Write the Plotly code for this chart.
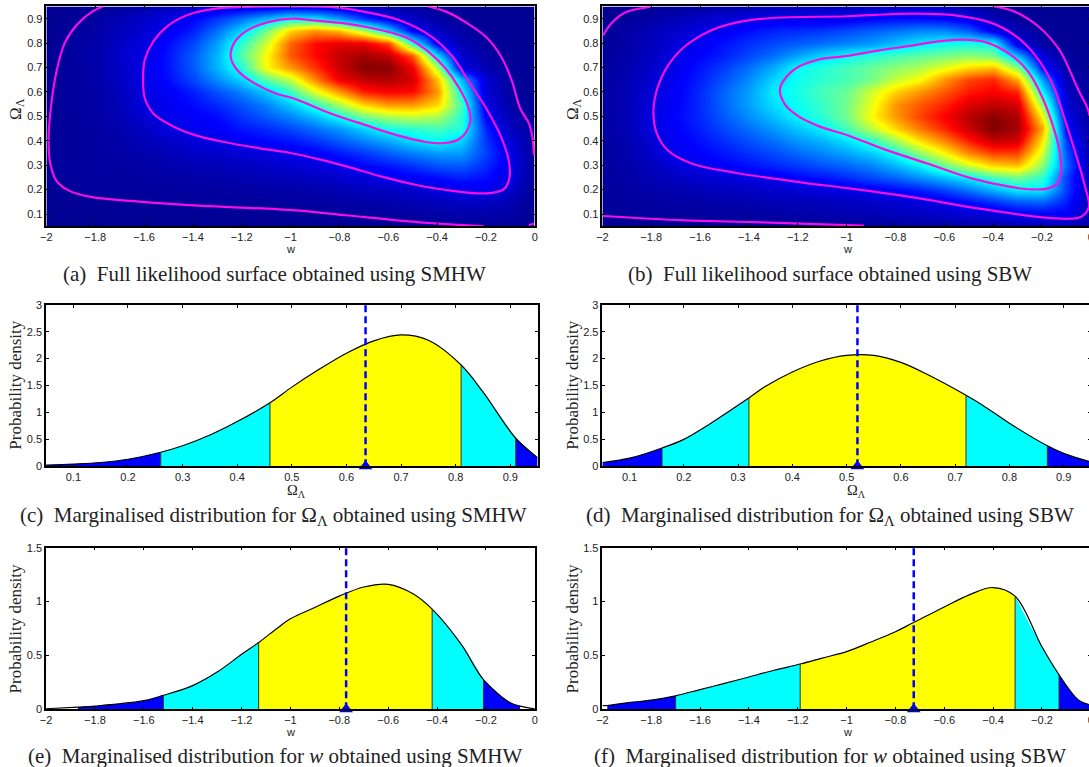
import plotly.graph_objects as go

W, H = 1100, 767

w_grid = [-2.0,-1.9,-1.8,-1.7,-1.6,-1.5,-1.4,-1.3,-1.2,-1.1,-1.0,-0.9,-0.8,-0.7,-0.6,-0.5,-0.4,-0.3,-0.2,-0.1,0.0]
om_grid = [0.05,0.10,0.15,0.20,0.25,0.30,0.35,0.40,0.45,0.50,0.55,0.60,0.65,0.70,0.75,0.80,0.85,0.90,0.95]

z_a = [
[.002,.002,.003,.003,.003,.004,.004,.004,.005,.005,.006,.006,.007,.008,.009,.011,.012,.014,.015,.012,.010],
[.003,.004,.005,.006,.007,.008,.009,.010,.011,.012,.013,.014,.015,.017,.020,.024,.030,.035,.035,.030,.005],
[.004,.007,.010,.013,.015,.016,.017,.018,.019,.020,.022,.025,.030,.035,.040,.050,.060,.070,.070,.050,.006],
[.006,.015,.018,.018,.019,.020,.022,.024,.028,.030,.035,.040,.050,.060,.070,.085,.105,.125,.130,.080,.008],
[.010,.018,.019,.020,.024,.028,.032,.038,.045,.050,.060,.070,.085,.100,.125,.140,.160,.180,.160,.115,.010],
[.012,.018,.020,.024,.030,.040,.050,.055,.065,.075,.090,.100,.120,.150,.170,.200,.230,.240,.190,.120,.012],
[.014,.017,.022,.030,.040,.055,.070,.080,.095,.105,.120,.140,.170,.200,.240,.270,.300,.300,.210,.115,.015],
[.013,.016,.025,.035,.055,.075,.100,.115,.135,.155,.170,.200,.240,.280,.320,.370,.405,.360,.200,.095,.015],
[.010,.016,.025,.040,.070,.105,.130,.140,.170,.190,.220,.260,.300,.360,.420,.440,.460,.430,.180,.060,.020],
[.009,.016,.030,.050,.090,.125,.140,.160,.200,.240,.280,.340,.410,.500,.550,.570,.550,.440,.140,.050,.012],
[.008,.017,.030,.055,.105,.130,.160,.190,.230,.280,.350,.440,.550,.660,.720,.720,.660,.460,.110,.030,.010],
[.007,.018,.030,.060,.110,.140,.180,.230,.280,.350,.450,.600,.720,.840,.870,.860,.720,.400,.090,.025,.008],
[.007,.019,.035,.070,.120,.160,.220,.290,.360,.480,.570,.740,.880,.930,.950,.910,.680,.330,.090,.020,.006],
[.008,.020,.035,.070,.115,.170,.240,.330,.430,.620,.720,.820,.920,.995,.990,.880,.550,.115,.045,.020,.005],
[.007,.020,.040,.080,.115,.170,.240,.330,.470,.620,.780,.860,.930,.960,.930,.780,.360,.080,.030,.012,.004],
[.006,.018,.035,.070,.110,.160,.220,.310,.440,.580,.770,.860,.890,.890,.800,.440,.130,.050,.018,.008,.003],
[.005,.015,.030,.060,.090,.130,.180,.260,.360,.500,.660,.720,.680,.550,.360,.140,.070,.030,.012,.006,.002],
[.004,.012,.025,.050,.080,.110,.150,.200,.260,.330,.400,.380,.300,.200,.120,.070,.030,.015,.008,.004,.002],
[.003,.006,.012,.022,.040,.060,.080,.100,.115,.120,.125,.120,.100,.070,.045,.022,.012,.006,.004,.002,.001],
]

z_b = [
[.005,.005,.006,.006,.007,.007,.008,.009,.010,.011,.012,.015,.018,.020,.025,.030,.035,.040,.045,.050,.020],
[.017,.017,.018,.019,.021,.024,.026,.030,.034,.038,.045,.050,.060,.065,.080,.090,.100,.125,.135,.140,.050],
[.012,.018,.023,.028,.032,.038,.043,.050,.055,.062,.070,.080,.090,.105,.125,.160,.200,.240,.250,.180,.045],
[.015,.025,.035,.045,.055,.065,.075,.085,.095,.105,.115,.130,.155,.180,.220,.270,.330,.390,.390,.210,.050],
[.016,.030,.050,.070,.085,.100,.115,.125,.150,.165,.190,.220,.250,.290,.340,.390,.460,.500,.440,.210,.050],
[.018,.035,.060,.100,.125,.145,.165,.185,.205,.230,.250,.280,.330,.390,.490,.580,.660,.680,.520,.250,.040],
[.020,.040,.080,.130,.150,.170,.195,.220,.250,.280,.310,.350,.410,.520,.620,.730,.800,.800,.580,.230,.030],
[.022,.045,.090,.135,.165,.195,.230,.260,.300,.330,.375,.440,.540,.650,.740,.840,.930,.910,.640,.200,.020],
[.024,.050,.105,.145,.180,.220,.260,.300,.345,.390,.460,.560,.660,.750,.830,.920,1.00,.960,.700,.150,.022],
[.024,.050,.110,.150,.190,.240,.290,.340,.395,.440,.500,.620,.720,.800,.870,.940,.990,.950,.620,.120,.020],
[.024,.050,.105,.145,.190,.250,.310,.370,.410,.450,.500,.600,.720,.780,.830,.900,.930,.910,.520,.090,.014],
[.023,.050,.100,.140,.190,.250,.310,.385,.420,.460,.490,.580,.660,.720,.780,.840,.870,.830,.400,.070,.015],
[.022,.045,.090,.135,.180,.230,.290,.360,.410,.440,.460,.500,.570,.620,.720,.800,.830,.700,.300,.050,.012],
[.020,.040,.080,.125,.170,.210,.260,.320,.400,.430,.460,.490,.520,.550,.600,.650,.680,.520,.160,.030,.009],
[.018,.035,.070,.115,.150,.180,.220,.260,.310,.360,.400,.430,.460,.480,.500,.520,.500,.330,.090,.025,.008],
[.014,.030,.060,.100,.135,.165,.195,.220,.240,.260,.280,.300,.340,.380,.410,.420,.410,.110,.025,.010,.005],
[.015,.030,.055,.080,.110,.135,.160,.180,.190,.200,.220,.240,.260,.280,.280,.240,.125,.050,.016,.008,.004],
[.008,.018,.030,.050,.075,.095,.110,.122,.125,.125,.130,.150,.160,.160,.150,.120,.050,.018,.010,.005,.002],
[.004,.008,.015,.020,.030,.040,.050,.060,.065,.070,.070,.080,.090,.090,.075,.040,.015,.008,.005,.002,.001],
]

a_inner_w = [-1.246,-1.227,-1.177,-1.092,-0.992,-0.907,-0.764,-0.636,-0.522,-0.437,-0.366,-0.309,-0.273,-0.263,-0.280,-0.316,-0.380,-0.451,-0.565,-0.693,-0.836,-0.978,-1.063,-1.149,-1.206,-1.237,-1.246]
a_inner_o = [0.752,0.807,0.852,0.886,0.900,0.893,0.879,0.855,0.821,0.766,0.697,0.615,0.540,0.485,0.437,0.403,0.390,0.396,0.423,0.464,0.512,0.570,0.595,0.636,0.677,0.718,0.752]
a_mid_w = [-1.604,-1.597,-1.562,-1.505,-1.419,-1.305,-1.191,-1.050,-0.836,-0.708,-0.551,-0.423,-0.337,-0.266,-0.195,-0.138,-0.107,-0.103,-0.124,-0.167,-0.238,-0.337,-0.480,-0.622,-0.764,-0.878,-1.006,-1.120,-1.277,-1.391,-1.490,-1.562,-1.597,-1.604]
a_mid_o = [0.656,0.732,0.807,0.869,0.916,0.941,0.948,0.950,0.948,0.930,0.893,0.827,0.745,0.636,0.526,0.416,0.321,0.252,0.204,0.188,0.185,0.195,0.218,0.252,0.293,0.323,0.351,0.368,0.396,0.423,0.464,0.512,0.574,0.656]
a_out1_w = [-1.768,-1.811,-1.875,-1.925,-1.960,-1.981,-1.991,-1.984,-1.960,-1.910,-1.818,-1.619,-1.334,-0.978,-0.764,-0.480,-0.209]
a_out1_o = [0.950,0.930,0.875,0.800,0.677,0.540,0.403,0.307,0.238,0.197,0.170,0.151,0.132,0.115,0.094,0.067,0.050]
a_out2_w = [-0.437,-0.366,-0.266,-0.195,-0.138,-0.095,-0.060,-0.024,-0.010,-0.003]
a_out2_o = [0.950,0.930,0.875,0.821,0.745,0.649,0.533,0.471,0.416,0.341]
a_out3_w = [-0.024,-0.003]
a_out3_o = [0.055,0.060]

b_inner_w = [-1.273,-1.251,-1.195,-1.109,-0.996,-0.868,-0.740,-0.626,-0.527,-0.428,-0.328,-0.257,-0.200,-0.158,-0.129,-0.122,-0.136,-0.179,-0.243,-0.328,-0.484,-0.669,-0.854,-0.996,-1.109,-1.195,-1.251,-1.273]
b_inner_o = [0.611,0.656,0.704,0.734,0.748,0.770,0.789,0.807,0.814,0.803,0.752,0.684,0.581,0.471,0.362,0.279,0.225,0.204,0.201,0.211,0.245,0.307,0.368,0.423,0.458,0.499,0.547,0.611]
b_mid_w = [-1.791,-1.777,-1.734,-1.663,-1.564,-1.450,-1.308,-0.996,-0.882,-0.726,-0.555,-0.413,-0.314,-0.229,-0.158,-0.101,-0.058,-0.023,-0.008,-0.037,-0.087,-0.186,-0.456,-0.740,-0.982,-1.180,-1.450,-1.635,-1.734,-1.777,-1.791]
b_mid_o = [0.512,0.608,0.704,0.786,0.848,0.885,0.903,0.910,0.916,0.921,0.914,0.885,0.834,0.752,0.636,0.471,0.334,0.211,0.129,0.090,0.081,0.085,0.122,0.170,0.204,0.229,0.268,0.307,0.362,0.430,0.512]
b_out1_w = [-1.997,-1.962,-1.905,-1.805]
b_out1_o = [0.832,0.882,0.926,0.948]
b_out2_w = [-0.396,-0.314,-0.214,-0.129,-0.087,-0.051,-0.016,-0.004]
b_out2_o = [0.950,0.930,0.868,0.773,0.690,0.608,0.540,0.500]
b_out3_w = [-1.997,-1.663,-1.379,-1.095,-0.928]
b_out3_o = [0.092,0.074,0.067,0.058,0.053]

c_x = [.05,.10,.15,.20,.26,.30,.35,.40,.46,.50,.55,.60,.65,.70,.75,.81,.85,.91,.95]
c_y = [.02,.04,.07,.13,.26,.38,.58,.83,1.18,1.47,1.80,2.10,2.33,2.44,2.34,1.88,1.38,.52,.16]
c_cuts = [.05,.26,.46,.81,.91,.95]
c_mark = .635

d_x = [.05,.10,.16,.20,.25,.32,.35,.40,.45,.50,.55,.60,.65,.72,.75,.80,.87,.90,.95]
d_y = [.07,.15,.34,.50,.80,1.27,1.48,1.75,1.95,2.06,2.06,1.93,1.70,1.32,1.14,.80,.38,.24,.08]
d_cuts = [.05,.16,.32,.72,.87,.95]
d_mark = .52

e_x = [-2.0,-1.87,-1.8,-1.6,-1.52,-1.4,-1.3,-1.2,-1.13,-1.05,-1.0,-.9,-.8,-.7,-.6,-.5,-.42,-.3,-.21,-.1,-.06,0.0]
e_y = [.005,.02,.03,.08,.13,.22,.345,.51,.62,.76,.84,.945,1.05,1.135,1.16,1.075,.93,.60,.275,.06,.03,.005]
e_cuts = [-1.87,-1.52,-1.13,-.42,-.21,-.06]
e_mark = -.772

f_x = [-2.0,-1.98,-1.9,-1.8,-1.70,-1.6,-1.5,-1.4,-1.3,-1.19,-1.1,-1.0,-.9,-.8,-.73,-.6,-.5,-.4,-.31,-.2,-.13,-.05,0.0]
f_y = [.035,.035,.06,.085,.125,.183,.24,.30,.36,.42,.475,.535,.625,.72,.80,.95,1.06,1.13,1.05,.58,.32,.085,.04]
f_cuts = [-1.98,-1.70,-1.19,-.31,-.13,0.0]
f_mark = -.725

band_colors = ["#0000ff", "#00ffff", "#ffff00", "#00ffff", "#0000ff"]

w_ticks = [-2,-1.8,-1.6,-1.4,-1.2,-1,-0.8,-0.6,-0.4,-0.2,0]
w_labels = ["−2","−1.8","−1.6","−1.4","−1.2","−1","−0.8","−0.6","−0.4","−0.2","0"]
om_ticks = [.1,.2,.3,.4,.5,.6,.7,.8,.9]
om_labels = ["0.1","0.2","0.3","0.4","0.5","0.6","0.7","0.8","0.9"]
c_yticks = [0,.5,1,1.5,2,2.5,3]
c_ylabels = ["0","0.5","1","1.5","2","2.5","3"]
e_yticks = [0,.5,1,1.5]
e_ylabels = ["0","0.5","1","1.5"]

captions = [
    "(a)  Full likelihood surface obtained using SMHW",
    "(b)  Full likelihood surface obtained using SBW",
    "(c)  Marginalised distribution for Ω<sub>Λ</sub> obtained using SMHW",
    "(d)  Marginalised distribution for Ω<sub>Λ</sub> obtained using SBW",
    "(e)  Marginalised distribution for <i>w</i> obtained using SMHW",
    "(f)  Marginalised distribution for <i>w</i> obtained using SBW",
]

JET = [[0, "rgb(0,0,143)"], [.15, "rgb(0,0,255)"], [.40, "rgb(0,255,255)"],
       [.62, "rgb(255,255,0)"], [.865, "rgb(255,0,0)"], [1, "rgb(128,0,0)"]]
MAGENTA = "#f50fe0"
SANS = "Liberation Sans"
SERIF = "Liberation Serif"

panels = [
    (46, 533.5, 5.7, 225.7), (601, 1088.5, 5.7, 225.7),
    (45.7, 536.3, 304.3, 466), (601, 1088.5, 304.3, 466),
    (45.7, 533.5, 547.5, 709.3), (601, 1088.5, 547.5, 709.3),
]
cap_pos = [(273.5,274),(828,274),(272.5,516),(828,516),(274,756),(828,756)]
xtitle_pos = [(290,248),(846,248),(296,491),(855,491),(290,732),(846,732)]
ytitle_pos = [(16,108),(572,108),(15,385),(571,385),(15,629),(571,629)]

fig = go.Figure()
layout = {}
ann = []

# the photographed page comes out slightly reduced and offset from the layout's pixels
def px(x): return ((x - 5.7) / 0.99) / W
def py(y): return 1 - ((y - 5.2) / 0.9855) / H

def note(text, x, y, size, family, angle=0):
    ann.append(dict(text=text, x=px(x), y=py(y), xref="paper", yref="paper", showarrow=False,
                    textangle=angle, xanchor="center", yanchor="middle",
                    font=dict(size=size, family=family, color="#222222")))

for i, (l, r, t, b) in enumerate(panels):
    n = i + 1
    sfx = "" if n == 1 else str(n)
    is_w = i in (0, 1, 4, 5)
    if i < 2:
        xr, yr, xv, xl, yv, yl = [-2, 0], [.05, .95], w_ticks, w_labels, om_ticks, om_labels
    elif i < 4:
        xr, yr, xv, xl, yv, yl = [.05, .95], [0, 3], om_ticks, om_labels, c_yticks, c_ylabels
    else:
        xr, yr, xv, xl, yv, yl = [-2, 0], [0, 1.5], w_ticks, w_labels, e_yticks, e_ylabels
    common = dict(showgrid=False, zeroline=False, showline=True, linecolor="black", linewidth=1.5,
                  mirror="ticks", ticks="inside", ticklen=3, tickcolor="black", tickwidth=1,
                  tickfont=dict(family=SANS, size=11, color="#222222"), tickmode="array")
    layout["xaxis" + sfx] = dict(common, domain=[px(l), px(r)], range=xr, tickvals=xv, ticktext=xl,
                                 anchor="y" + sfx)
    layout["yaxis" + sfx] = dict(common, domain=[py(b), py(t)], range=yr, tickvals=yv, ticktext=yl,
                                 anchor="x" + sfx)
    note(captions[i], cap_pos[i][0], cap_pos[i][1], 21, SERIF)
    if is_w:
        note("w", xtitle_pos[i][0], xtitle_pos[i][1], 11, SANS)
    else:
        note("Ω<sub>Λ</sub>", xtitle_pos[i][0], xtitle_pos[i][1], 14.5, SERIF)
    if i < 2:
        note("Ω<sub>Λ</sub>", ytitle_pos[i][0], ytitle_pos[i][1], 17, SERIF, -90)
    else:
        note("Probability density", ytitle_pos[i][0], ytitle_pos[i][1], 17, SERIF, -90)

surfaces = [
    (z_a, [(a_inner_w, a_inner_o), (a_mid_w, a_mid_o), (a_out1_w, a_out1_o), (a_out2_w, a_out2_o), (a_out3_w, a_out3_o)]),
    (z_b, [(b_inner_w, b_inner_o), (b_mid_w, b_mid_o), (b_out1_w, b_out1_o), (b_out2_w, b_out2_o), (b_out3_w, b_out3_o)]),
]
for i, (z, paths) in enumerate(surfaces):
    xa, ya = ("x", "y") if i == 0 else ("x2", "y2")
    fig.add_trace(go.Heatmap(x=w_grid, y=om_grid, z=z, colorscale=JET, zmin=0, zmax=1, zsmooth="best",
                             showscale=False, xaxis=xa, yaxis=ya))
    for cw, co in paths:
        fig.add_trace(go.Scatter(x=cw, y=co, mode="lines", xaxis=xa, yaxis=ya,
                                 line=dict(color=MAGENTA, width=2.2, shape="spline", smoothing=1),
                                 showlegend=False))

curves = [(c_x, c_y, c_cuts, c_mark, 3), (d_x, d_y, d_cuts, d_mark, 4), (e_x, e_y, e_cuts, e_mark, 5), (f_x, f_y, f_cuts, f_mark, 6)]
for xs, ys, cuts, mark, n in curves:
    xa, ya = f"x{n}", f"y{n}"
    top = layout[f"yaxis{n}"]["range"][1]
    for k in range(5):
        sx = [x for x in xs if cuts[k] - 1e-9 <= x <= cuts[k + 1] + 1e-9]
        sy = [y for x, y in zip(xs, ys) if cuts[k] - 1e-9 <= x <= cuts[k + 1] + 1e-9]
        fig.add_trace(go.Scatter(x=sx, y=sy, mode="lines", fill="tozeroy", fillcolor=band_colors[k],
                                 line=dict(color=band_colors[k], width=0, shape="spline"),
                                 showlegend=False, xaxis=xa, yaxis=ya))
    fig.add_trace(go.Scatter(x=xs, y=ys, mode="lines", line=dict(color="black", width=1.2, shape="spline"),
                             showlegend=False, xaxis=xa, yaxis=ya))
    for c in cuts[1:-1]:
        v = ys[xs.index(c)]
        fig.add_trace(go.Scatter(x=[c, c], y=[0, v], mode="lines", line=dict(color="#303030", width=1),
                                 showlegend=False, xaxis=xa, yaxis=ya))
    fig.add_trace(go.Scatter(x=[mark, mark], y=[0, top], mode="lines",
                             line=dict(color="#0000ff", width=2.5, dash="7px,4px"),
                             showlegend=False, xaxis=xa, yaxis=ya))
    fig.add_trace(go.Scatter(x=[mark], y=[0], mode="markers", cliponaxis=False,
                             marker=dict(symbol="triangle-up", size=12, color="#0000ff"),
                             showlegend=False, xaxis=xa, yaxis=ya))

fig.update_layout(width=W, height=H, margin=dict(l=0, r=0, t=0, b=0), paper_bgcolor="white",
                  plot_bgcolor="white", showlegend=False, annotations=ann, **layout)

fig.write_html("out.html", config={"displayModeBar": False},
               post_script="document.documentElement.style.cssText='margin:0;padding:0;overflow:hidden';document.body.style.cssText='margin:0;padding:0;overflow:hidden';")
